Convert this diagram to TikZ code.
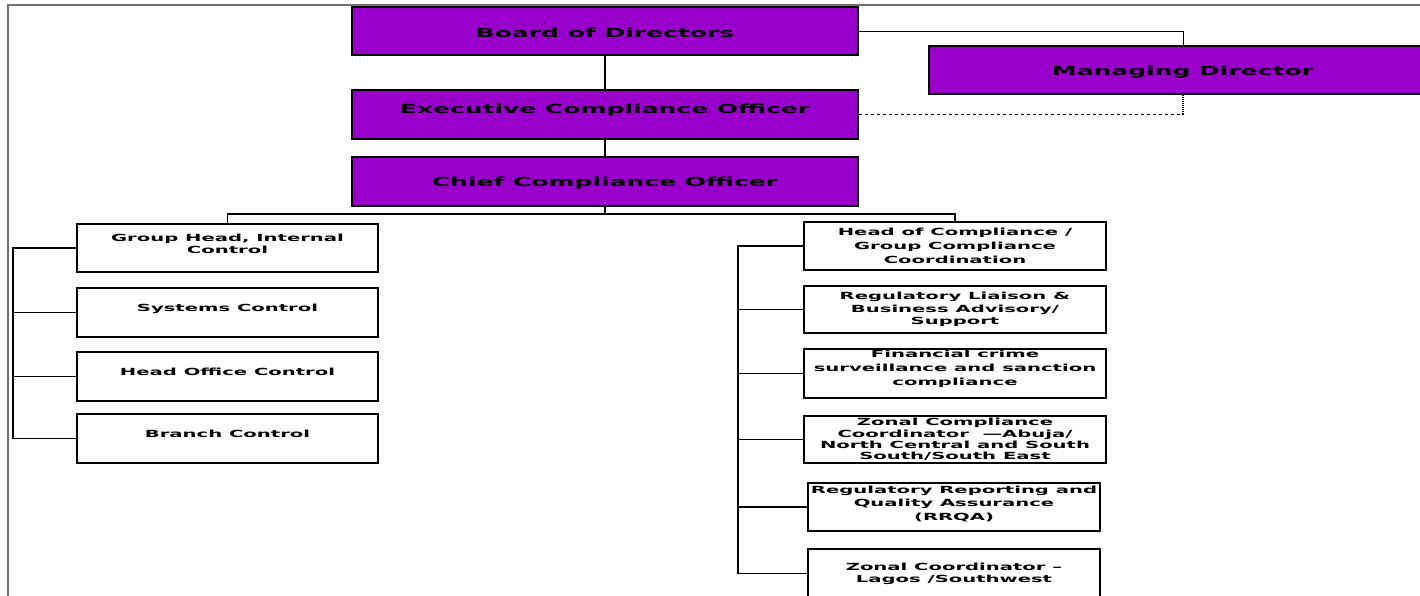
\documentclass[tikz,border=0pt]{standalone}
\usepackage{fontspec}
\newfontfamily\boxfont[FakeStretch=2.0]{DejaVu Sans Bold}
\definecolor{topfill}{HTML}{9900CC}
\definecolor{framegray}{HTML}{707070}
\tikzset{
  topbox/.style={draw=black,line width=1.2pt,fill=topfill,minimum width=506pt,minimum height=48pt,inner sep=0pt},
  ctlbox/.style={draw=black,line width=1.2pt,fill=white,minimum width=301pt,minimum height=48pt,inner sep=0pt},
  toptext/.style={font=\boxfont\fontsize{12.5}{15}\selectfont,inner sep=0pt,yshift=-2pt},
  ctltext/.style={font=\boxfont\fontsize{9.8}{#1}\selectfont,align=center,inner sep=0pt},
  ctltext/.default=13,
  link/.style={draw=black,line width=1.1pt},
  rail/.style={draw=black,line width=1.4pt}
}
\begin{document}
\begin{tikzpicture}[x=1pt,y=-1pt]
 \useasboundingbox (0,0) rectangle (1420,595);
 \draw[framegray,line width=1.2pt] (8,600) -- (8,5) -- (1425,5);
 % top line
 \node[topbox] (bod) at (605,31) {};
 \node[toptext] (bod-t) at (bod) {Board of Directors};
 \node[topbox,minimum height=49pt] (eco) at (605,114.5) {};
 \node[toptext,yshift=6pt] (eco-t) at (eco) {Executive Compliance Officer};
 \node[topbox,minimum height=49pt] (cco) at (605,181.5) {};
 \node[toptext] (cco-t) at (cco) {Chief Compliance Officer};
 \node[topbox,minimum width=508pt] (md) at (1183,70) {};
 \node[toptext] (md-t) at (md) {Managing Director};
 %
 \draw[link,line width=0.8pt] (bod.east) -| (md.north);
 \coordinate (mdjoin) at (eco.east -| md.south);
 \draw[black,line width=0.8pt,dashed] (eco.east) -- (mdjoin);
 \draw[black,line width=1.1pt,densely dotted] (mdjoin) -- (md.south);
 \draw[link] (bod) -- (eco);
 \draw[link] (eco) -- (cco);
 %
 % left column
 \node[ctlbox] (gh) at (227.5,248) {};
 \node[ctltext=12,yshift=4pt] (gh-t) at (gh) {Group Head, Internal\\Control};
 \node[ctlbox,minimum height=49pt] (sc) at (227.5,312.5) {};
 \node[ctltext,yshift=4pt] (sc-t) at (sc) {Systems Control};
 \node[ctlbox,minimum height=49pt] (ho) at (227.5,376.5) {};
 \node[ctltext,yshift=4.5pt] (ho-t) at (ho) {Head Office Control};
 \node[ctlbox,minimum height=49pt] (bc) at (227.5,438.5) {};
 \node[ctltext,yshift=5pt] (bc-t) at (bc) {Branch Control};
 %
 % right column
 \node[ctlbox,minimum width=302pt] (hoc) at (955,246) {};
 \node[ctltext=14] (hoc-t) at (hoc) {Head of Compliance /\\Group Compliance\\Coordination};
 \node[ctlbox,minimum width=302pt,minimum height=47pt] (rl) at (955,309.5) {};
 \node[ctltext=12.5] (rl-t) at (rl) {Regulatory Liaison \&\\Business Advisory/\\Support};
 \node[ctlbox,minimum width=302pt,minimum height=49pt] (fc) at (955,373.5) {};
 \node[ctltext=14,yshift=5pt] (fc-t) at (fc) {Financial crime\\surveillance and sanction\\compliance};
 \node[ctlbox,minimum width=302pt,minimum height=47pt] (zc) at (955,439.5) {};
 \node[ctltext=11.3] (zc-t) at (zc) {Zonal Compliance\\Coordinator \ —Abuja/\\North Central and South\\South/South East};
 \node[ctlbox,minimum width=292pt] (rr) at (954,507) {};
 \node[ctltext=13.5,yshift=3.5pt] (rr-t) at (rr) {Regulatory Reporting and\\Quality Assurance\\(RRQA)};
 \node[ctlbox,minimum width=292pt,minimum height=49pt] (zl) at (954,573.5) {};
 \node[ctltext=12,yshift=-0.5pt] (zl-t) at (zl) {Zonal Coordinator –\\Lagos /Southwest};
 %
 \coordinate (bar) at (605,214);
 \draw[link] (cco) -- (bar);
 \draw[link] (gh.north) |- (bar) -| (hoc.north);
 %
 \coordinate (lr) at (13,0);
 \coordinate (rr-x) at (738,0);
 \draw[rail] (gh.west) -- (gh.west -| lr) -- (bc.west -| lr) -- (bc.west);
 \foreach \n in {sc,ho} \draw[link] (\n.west) -- (\n.west -| lr);
 \draw[rail] (hoc.west) -- (hoc.west -| rr-x) -- (zl.west -| rr-x) -- (zl.west);
 \foreach \n in {rl,fc,zc,rr} \draw[link] (\n.west) -- (\n.west -| rr-x);
\end{tikzpicture}
\end{document}
